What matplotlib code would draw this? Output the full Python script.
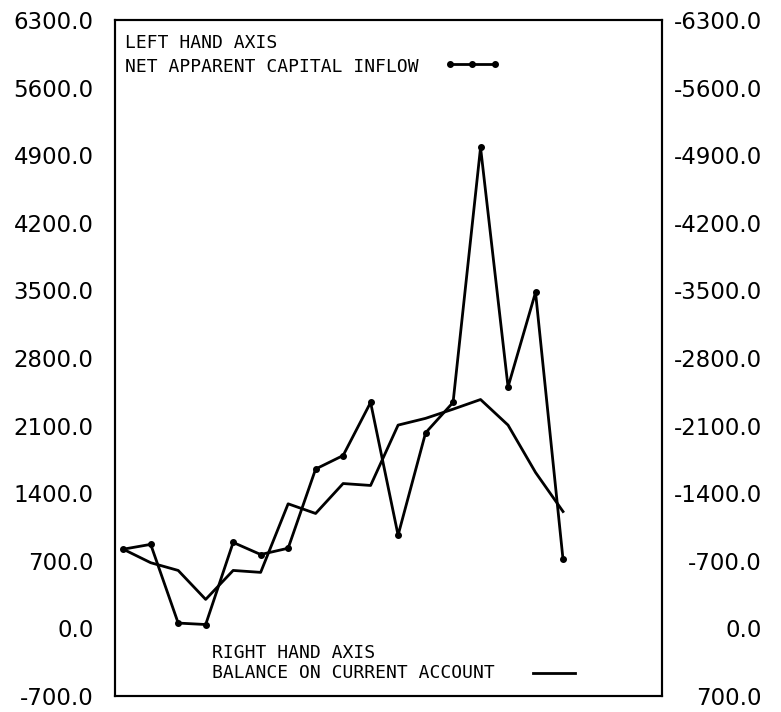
import matplotlib
matplotlib.use('Agg')
import matplotlib.pyplot as plt

plt.rcParams['axes.unicode_minus'] = False

# Data (17 periods)
periods = list(range(17))
capital_inflow = [820, 870, 55, 40, 890, 765, 830, 1650, 1790, 2340,
                  965, 2025, 2340, 4980, 2500, 3480, 715]
current_account = [-820, -680, -600, -300, -600, -580, -1290, -1190, -1500, -1480,
                   -2105, -2175, -2270, -2370, -2105, -1615, -1210]

left_ticks = [-700, 0, 700, 1400, 2100, 2800, 3500, 4200, 4900, 5600, 6300]
right_ticks = [700, 0, -700, -1400, -2100, -2800, -3500, -4200, -4900, -5600, -6300]

fig = plt.figure(figsize=(7.81, 7.12), dpi=100)
ax = fig.add_axes([0.1472, 0.0225, 0.7004, 0.9494])
ax2 = ax.twinx()

# Left hand axis series
ax.plot(periods, capital_inflow, color='black', lw=2, marker='o', ms=4)
ax.set_xlim(-0.3, 19.6)
ax.set_ylim(-700, 6300)
ax.set_yticks(left_ticks)
ax.set_yticklabels(['%.1f' % v for v in left_ticks])
ax.set_xticks([])
ax.tick_params(axis='y', length=0, pad=15.5, labelsize=16.5)

# Right hand axis series (inverted scale)
ax2.plot(periods, current_account, color='black', lw=2)
ax2.set_ylim(700, -6300)
ax2.set_yticks(right_ticks)
ax2.set_yticklabels(['%.1f' % v for v in right_ticks])
ax2.tick_params(axis='y', length=0, pad=72, labelsize=16.5)
for lab in ax2.get_yticklabels():
    lab.set_ha('right')

for a in (ax, ax2):
    for s in a.spines.values():
        s.set_linewidth(1.5)

mono = 'DejaVu Sans Mono'
ax.text(0.018, 0.966, 'LEFT HAND AXIS', transform=ax.transAxes,
        family=mono, fontsize=13, va='center', ha='left')
ax.text(0.018, 0.9305, 'NET APPARENT CAPITAL INFLOW', transform=ax.transAxes,
        family=mono, fontsize=13, va='center', ha='left')
ax.plot([0.6124, 0.6535, 0.6947], [0.935, 0.935, 0.935], transform=ax.transAxes,
        color='black', lw=2, marker='o', ms=4, clip_on=False)

ax.text(0.177, 0.0636, 'RIGHT HAND AXIS', transform=ax.transAxes,
        family=mono, fontsize=13, va='center', ha='left')
ax.text(0.177, 0.034, 'BALANCE ON CURRENT ACCOUNT', transform=ax.transAxes,
        family=mono, fontsize=13, va='center', ha='left')
ax.plot([0.764, 0.841], [0.034, 0.034], transform=ax.transAxes,
        color='black', lw=2, clip_on=False)

fig.savefig('out.png', dpi=100)
